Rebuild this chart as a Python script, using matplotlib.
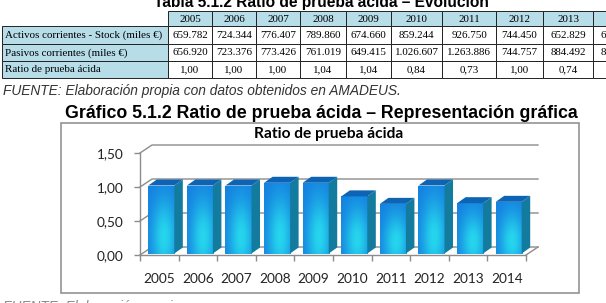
import numpy as np
import matplotlib
matplotlib.use("Agg")
import matplotlib.pyplot as plt
from matplotlib.patches import Rectangle, Polygon

# ---- data ----
years = ['2005', '2006', '2007', '2008', '2009', '2010', '2011', '2012', '2013', '2014']
activos = ['659.782', '724.344', '776.407', '789.860', '674.660', '859.244', '926.750', '744.450', '652.829', '655.000']
pasivos = ['656.920', '723.376', '773.426', '761.019', '649.415', '1.026.607', '1.263.886', '744.757', '884.492', '862.000']
ratio_txt = ['1,00', '1,00', '1,00', '1,04', '1,04', '0,84', '0,73', '1,00', '0,74', '0,76']
row_labels = ['Activos corrientes - Stock (miles €)', 'Pasivos corrientes (miles €)', 'Ratio de prueba ácida']
ratio = [1.00, 1.00, 1.00, 1.04, 1.04, 0.84, 0.73, 1.00, 0.74, 0.76]
y_ticks = [0.0, 0.5, 1.0, 1.5]

W, H = 606, 303
fig = plt.figure(figsize=(W / 100, H / 100), dpi=100)
page = fig.add_axes([0, 0, 1, 1])
page.set_xlim(0, W)
page.set_ylim(H, 0)
page.axis('off')

serif = 'Liberation Serif'
sans = 'Liberation Sans'
light_blue = '#b7dde8'
tfs = 7.9

# ---- table (cut at the top and right, as in the page) ----
page.text(321, 7, 'Tabla 5.1.2 Ratio de prueba ácida – Evolución', family=sans,
          weight='bold', fontsize=11.2, ha='center', va='baseline')

col_x = [2, 168, 212, 256, 300, 346, 391, 442, 496, 543, 593, 643]
row_y = [11, 26, 43.5, 61, 78]
rows = [activos, pasivos, ratio_txt]

for j, yr in enumerate(years):
    x0, x1 = col_x[j + 1], col_x[j + 2]
    page.add_patch(Rectangle((x0, row_y[0]), x1 - x0, row_y[1] - row_y[0],
                             fc=light_blue, ec='#222222', lw=0.7))
    page.text((x0 + x1) / 2, (row_y[0] + row_y[1]) / 2 + 0.5, yr, family=serif,
              fontsize=tfs, ha='center', va='center')
for r, vals in enumerate(rows):
    y0, y1 = row_y[r + 1], row_y[r + 2]
    page.add_patch(Rectangle((col_x[0], y0), col_x[1] - col_x[0], y1 - y0,
                             fc=light_blue, ec='#222222', lw=0.7))
    page.text(col_x[0] + 3, (y0 + y1) / 2 + 0.5, row_labels[r], family=serif,
              fontsize=tfs, ha='left', va='center')
    for j, v in enumerate(vals):
        x0, x1 = col_x[j + 1], col_x[j + 2]
        page.add_patch(Rectangle((x0, y0), x1 - x0, y1 - y0, fc='white', ec='#222222', lw=0.7))
        page.text((x0 + x1) / 2, (y0 + y1) / 2 + 0.5, v, family=serif,
                  fontsize=tfs, ha='center', va='center', clip_on=True)

page.text(3, 91, 'FUENTE: Elaboración propia con datos obtenidos en AMADEUS.', family=sans,
          style='italic', fontsize=9.9, color='#333333', ha='left', va='center')
page.text(321, 113, 'Gráfico 5.1.2 Ratio de prueba ácida – Representación gráfica', family=sans,
          weight='bold', fontsize=12.8, ha='center', va='center')

# chart frame
page.add_patch(Rectangle((61, 123), 518, 170, fc='white', ec='#8a8a8a', lw=1.1))
page.text(329, 134, 'Ratio de prueba ácida', family='Lato', weight='bold',
          fontsize=11.2, ha='center', va='center')
page.text(3, 307.5, 'FUENTE: Elaboración propia.', family=sans, style='italic',
          fontsize=9.9, color='#8a8a8a', ha='left', va='center')

# ---- 3D-looking column chart ----
ax = fig.add_axes([140 / W, (H - 255) / H, 386 / W, 102 / H])
ax.patch.set_alpha(0)
n = len(ratio)

grid_c = '#8c8c8c'
ddx, ddy = 12 / 38.6, 8 / 68          # wall depth
bdx, bdy = 8.5 / 38.6, 6 / 68          # bar depth
bw, boff, by0 = 0.674, 0.215, 0.022    # bar front width / offset / base

for t in y_ticks:
    ax.plot([0, ddx, n + ddx], [t, t + ddy, t + ddy], color=grid_c, lw=1.0,
            clip_on=False, zorder=1)
ax.plot([n, n + ddx], [0, ddy], color=grid_c, lw=1.0, clip_on=False, zorder=1)

# front gradient texture
gu, gv = np.meshgrid(np.linspace(0, 1, 60), np.linspace(0, 1, 120))
blue = np.array([0.08, 0.50, 0.88])
cyan = np.array([0.15, 0.84, 0.93])
w = np.exp(-((gu - 0.6) / 0.45) ** 2 - ((gv - 0.25) / 0.55) ** 2)
tex = blue[None, None, :] * (1 - w[..., None]) + cyan[None, None, :] * w[..., None]

for i, v in enumerate(ratio):
    x0 = i + boff
    front = Rectangle((x0, by0), bw, v, fc='none', ec='none', zorder=3)
    ax.add_patch(front)
    im = ax.imshow(tex, extent=(x0, x0 + bw, by0, by0 + v), origin='lower',
                   aspect='auto', zorder=3, interpolation='bilinear')
    im.set_clip_path(front)
    side = Polygon([(x0 + bw, by0), (x0 + bw + bdx, by0 + bdy),
                    (x0 + bw + bdx, by0 + v + bdy), (x0 + bw, by0 + v)],
                   closed=True, fc='#137c9e', ec='none', zorder=3, clip_on=False)
    top = Polygon([(x0, by0 + v), (x0 + bw, by0 + v), (x0 + bw + bdx, by0 + v + bdy),
                   (x0 + bdx, by0 + v + bdy)], closed=True, fc='#0d64b4', ec='none',
                  zorder=3, clip_on=False)
    ax.add_patch(side)
    ax.add_patch(top)

ax.set_xlim(0, n)
ax.set_ylim(0, 1.5)

for s in ['top', 'right']:
    ax.spines[s].set_visible(False)
for s in ['left', 'bottom']:
    ax.spines[s].set_color(grid_c)
    ax.spines[s].set_linewidth(1.0)

ax.set_yticks(y_ticks)
ax.set_yticklabels([f'{t:.2f}'.replace('.', ',') for t in y_ticks])
ax.set_xticks(np.arange(n) + 0.5)
ax.set_xticklabels(years)
ax.set_xticks(np.arange(n + 1), minor=True)
ax.tick_params(axis='x', which='major', length=0, pad=13)
ax.tick_params(axis='x', which='minor', length=4, color=grid_c, width=1.0)
ax.tick_params(axis='y', length=4, color=grid_c, width=1.0, pad=8)
for lab in ax.get_xticklabels() + ax.get_yticklabels():
    lab.set_family('Lato')
    lab.set_fontsize(9.8)
    lab.set_color('#222222')

fig.savefig('out.png', dpi=100)
